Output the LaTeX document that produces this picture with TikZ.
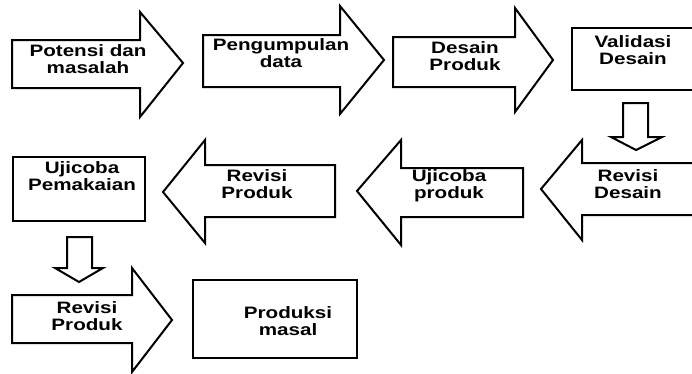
\documentclass[tikz,border=0pt]{standalone}
\usepackage{fontspec}
\setmainfont[FakeStretch=1.25]{Liberation Sans}
\usepackage{tikz}
\usetikzlibrary{positioning}

\tikzset{
  lbl/.style={align=center, inner sep=0pt, font=\bfseries\fontsize{16.5}{17}\selectfont},
  blok/.style={draw, line width=2pt, line join=miter},
  kotak/.style={draw, line width=2.6pt}
}

\begin{document}
\begin{tikzpicture}[x=1pt,y=-1pt]
\useasboundingbox (0,0) rectangle (692,373);
\clip (0,0) rectangle (692,373);

\draw[blok] (12,40)--(140,40)--(140,12)--(183,63)--(140,117)--(140,88)--(12,88)--cycle;
\draw[blok] (203,35)--(340,35)--(340,6)--(384,60)--(340,114)--(340,87)--(203,87)--cycle;
\draw[blok] (393,37)--(515,37)--(515,8)--(553,60)--(515,112)--(515,87)--(393,87)--cycle;
\draw[kotak] (572,28) rectangle (700,90);
\draw[blok] (623,103)--(648,103)--(648,137)--(662,137)--(636,150)--(611,137)--(623,137)--cycle;

\draw[blok] (700,163)--(582,163)--(582,140)--(541,189)--(582,240)--(582,215)--(700,215);
\draw[blok] (523,168)--(401,168)--(401,140)--(357,191)--(401,245)--(401,217)--(523,217)--cycle;
\draw[blok] (335,165)--(205,165)--(205,140)--(163,192)--(205,243)--(205,217)--(335,217)--cycle;
\draw[kotak] (13,157) rectangle (145,221);
\draw[blok] (67,237)--(92,237)--(92,268)--(103,268)--(79,282)--(55,268)--(67,268)--cycle;

\draw[blok] (12,295)--(132,295)--(132,268)--(172,320)--(132,372)--(132,343)--(12,343)--cycle;
\draw[kotak] (193,280) rectangle (357,358);

\node[lbl] (potensi) at (88,59) {Potensi dan\\masalah};
\node[lbl] (kumpul) at (281,53) {Pengumpulan\\data};
\node[lbl] (desain) at (465,56) {Desain\\Produk};
\node[lbl] (validasi) at (633,50) {Validasi\\Desain};
\node[lbl] (revdesain) at (628,184) {Revisi\\Desain};
\node[lbl] (ujiproduk) at (449,186) {Ujicoba\\produk};
\node[lbl] (revproduk) at (257,184) {Revisi\\Produk};
\node[lbl] (ujipakai) at (82,176) {Ujicoba\\Pemakaian};
\node[lbl] (revproduk2) at (87,316) {Revisi\\Produk};
\node[lbl] (masal) at (288,321) {Produksi\\masal};
\end{tikzpicture}
\end{document}
